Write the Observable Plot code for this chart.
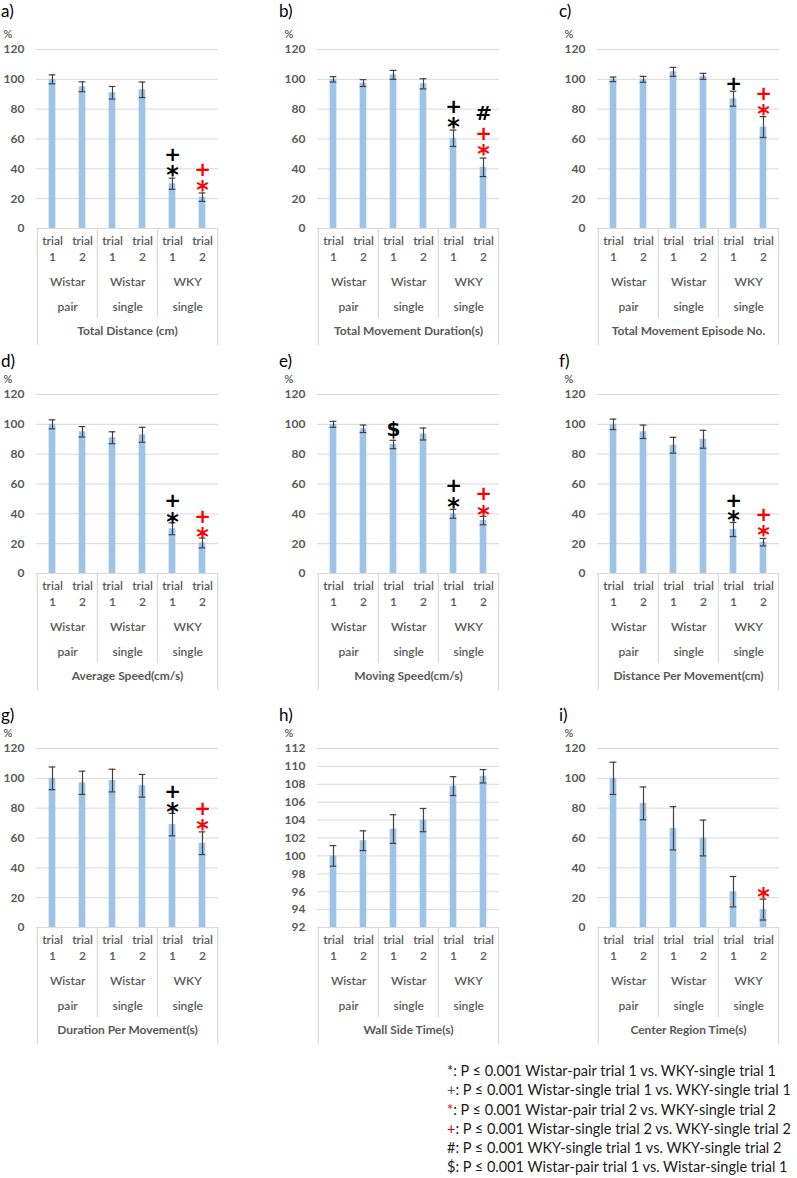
<!DOCTYPE html>
<html><head><meta charset="utf-8">
<script src="https://cdn.jsdelivr.net/npm/d3@7"></script>
<script src="https://cdn.jsdelivr.net/npm/@observablehq/plot@0.6"></script>
<style>
body{margin:0;background:#fff;font-family:Lato,"Open Sans",sans-serif}
#wrap{position:relative;width:797px;height:1178px;overflow:hidden;background:#fff}
.panel{position:absolute}
.panel svg{overflow:visible}
.letter{position:absolute;font-size:17px;color:#000;line-height:1;font-family:Lato,sans-serif}
#legend{position:absolute;left:447px;top:1061px;font-size:14.5px;color:#1a1a1a;line-height:19.3px;white-space:nowrap}
</style></head><body><div id="wrap"></div>
<script>
// ---------- data ----------
const trials = ["trial 1", "trial 2"];
const strains = ["Wistar", "Wistar", "WKY"];
const housing = ["pair", "single", "single"];
const letters = ["a)", "b)", "c)", "d)", "e)", "f)", "g)", "h)", "i)"];
const titles = ["Total Distance (cm)", "Total Movement Duration(s)", "Total Movement Episode No.",
  "Average Speed(cm/s)", "Moving Speed(cm/s)", "Distance Per Movement(cm)",
  "Duration Per Movement(s)", "Wall Side Time(s)", "Center Region Time(s)"];

const meanA = [100, 95, 91, 93, 30, 21];     const errA = [3, 3.3, 4.2, 5.2, 3.7, 2.8];
const meanB = [100, 97.5, 103, 97, 60.5, 41]; const errB = [1.8, 2.3, 3, 3.4, 5.5, 6.2];
const meanC = [100, 100, 105, 102, 87, 68];  const errC = [1.5, 2, 3, 2, 5, 7];
const meanD = [100, 95, 91, 93, 30, 20.5];   const errD = [3, 3.5, 4, 5, 4, 3.3];
const meanE = [100, 97, 86.5, 93.5, 40, 35.5]; const errE = [2, 2.5, 2.8, 4, 3, 2.8];
const meanF = [100, 95, 86, 90, 29.5, 21];   const errF = [3.5, 4.5, 5.3, 6, 4.7, 2.5];
const meanG = [100, 97, 98.5, 95, 69, 56.5]; const errG = [7.6, 7.8, 7.6, 7.6, 7.5, 7.6];
const meanH = [100, 101.7, 103, 104, 107.8, 108.9]; const errH = [1.15, 1.1, 1.6, 1.3, 1.05, 0.75];
const meanI = [100, 83.2, 66.5, 60, 24, 12]; const errI = [10.8, 11, 14.5, 12, 10.2, 7];

const ticksPct = [0, 20, 40, 60, 80, 100, 120];
const ticksWall = [92, 94, 96, 98, 100, 102, 104, 106, 108, 110, 112];

// significance marks: bar index, symbol, colour, height (in y units)
const annA = [{i: 4, s: "+", c: "black", y: 49.5}, {i: 4, s: "*", c: "black", y: 39}, {i: 5, s: "+", c: "red", y: 39.3}, {i: 5, s: "*", c: "red", y: 28.8}];
const annB = [{i: 4, s: "+", c: "black", y: 81.8}, {i: 4, s: "*", c: "black", y: 71}, {i: 5, s: "#", c: "black", y: 77}, {i: 5, s: "+", c: "red", y: 63.5}, {i: 5, s: "*", c: "red", y: 53}];
const annC = [{i: 4, s: "+", c: "black", y: 97.4}, {i: 5, s: "+", c: "red", y: 90.7}, {i: 5, s: "*", c: "red", y: 80.2}];
const annD = [{i: 4, s: "+", c: "black", y: 48.9}, {i: 4, s: "*", c: "black", y: 38}, {i: 5, s: "+", c: "red", y: 38}, {i: 5, s: "*", c: "red", y: 27.6}];
const annE = [{i: 2, s: "$", c: "black", y: 96.4}, {i: 4, s: "+", c: "black", y: 58.8}, {i: 4, s: "*", c: "black", y: 47.8}, {i: 5, s: "+", c: "red", y: 53.4}, {i: 5, s: "*", c: "red", y: 42.6}];
const annF = [{i: 4, s: "+", c: "black", y: 49}, {i: 4, s: "*", c: "black", y: 39}, {i: 5, s: "+", c: "red", y: 39.4}, {i: 5, s: "*", c: "red", y: 28.8}];
const annG = [{i: 4, s: "+", c: "black", y: 90.8}, {i: 4, s: "*", c: "black", y: 80.7}, {i: 5, s: "+", c: "red", y: 80}, {i: 5, s: "*", c: "red", y: 69.5}];
const annH = [];
const annI = [{i: 5, s: "*", c: "red", y: 23.5}];

const legendSymbols = ["*", "+", "*", "+", "#", "$"];
const legendColors = ["#1a1a1a", "#44546a", "#e00000", "#e00000", "#1a1a1a", "#1a1a1a"];
const legendTexts = [
  "P ≤ 0.001 Wistar-pair trial 1 vs. WKY-single trial 1",
  "P ≤ 0.001 Wistar-single trial 1 vs. WKY-single trial 1",
  "P ≤ 0.001 Wistar-pair trial 2 vs. WKY-single trial 2",
  "P ≤ 0.001 Wistar-single trial 2 vs. WKY-single trial 2",
  "P ≤ 0.001 WKY-single trial 1 vs. WKY-single trial 2",
  "P ≤ 0.001 Wistar-pair trial 1 vs. Wistar-single trial 1"];

// ---------- layout ----------
const keys = [];
strains.forEach((s, g) => trials.forEach(t => keys.push(`${s} ${housing[g]} ${t}`)));
const panels = [
  {mean: meanA, err: errA, ann: annA, ticks: ticksPct},
  {mean: meanB, err: errB, ann: annB, ticks: ticksPct},
  {mean: meanC, err: errC, ann: annC, ticks: ticksPct},
  {mean: meanD, err: errD, ann: annD, ticks: ticksPct},
  {mean: meanE, err: errE, ann: annE, ticks: ticksPct},
  {mean: meanF, err: errF, ann: annF, ticks: ticksPct},
  {mean: meanG, err: errG, ann: annG, ticks: ticksPct},
  {mean: meanH, err: errH, ann: annH, ticks: ticksWall},
  {mean: meanI, err: errI, ann: annI, ticks: ticksPct}];

const colLeft = [0, 281, 561];
const rowTop = [20, 365, 719];
const pctDy = [-19, -19, -19];
const letterTop = [2, 352, 706];
const ML = 36, PW = 182, MR = 18, MT = 29, PH = 179, MB = 118;
const W = ML + PW + MR, H = MT + PH + MB;
const bw = PW / keys.length;
const barW = 7, capW = 7;
const gray = "#595959", lineCol = "#d9d9d9", errCol = "#404040", barFill = "#9dc3e6";
const font = "Lato, 'Open Sans', sans-serif";

const wrap = document.getElementById("wrap");

panels.forEach((p, n) => {
  const r = Math.floor(n / 3), c = n % 3;
  const y0 = p.ticks[0], y1 = p.ticks[p.ticks.length - 1];
  const data = keys.map((k, i) => ({k, v: p.mean[i], e: p.err[i], t: trials[i % 2]}));
  const grp = strains.map((s, g) => ({k: keys[2 * g], top: s, bottom: housing[g]}));
  const ann = p.ann.map(a => ({...a, k: keys[a.i]}));
  const barInset = (bw - barW) / 2, capInset = (bw - capW) / 2;
  const chart = Plot.plot({
    width: W, height: H, marginLeft: ML, marginRight: MR, marginTop: MT, marginBottom: MB,
    x: {domain: keys, padding: 0, axis: null},
    y: {domain: [y0, y1], axis: null},
    style: {fontFamily: font, background: "transparent", overflow: "visible"},
    marks: [
      Plot.gridY(p.ticks, {stroke: lineCol, strokeOpacity: 1, strokeWidth: 1}),
      Plot.axisY(p.ticks, {tickSize: 0, tickPadding: 12, fontSize: 12, fontWeight: "bold", fill: gray, label: null}),
      Plot.text(["%"], {frameAnchor: "top-left", textAnchor: "start", dx: -33, dy: pctDy[r], fontSize: 11, fill: "#333"}),
      Plot.barY(data, {x: "k", y1: y0, y2: "v", fill: barFill, insetLeft: barInset, insetRight: barInset}),
      Plot.ruleX(data, {x: "k", y1: d => d.v - d.e, y2: d => d.v + d.e, stroke: errCol, strokeWidth: 1.2}),
      Plot.tickY(data, {x: "k", y: d => d.v - d.e, stroke: errCol, strokeWidth: 1.2, insetLeft: capInset, insetRight: capInset}),
      Plot.tickY(data, {x: "k", y: d => d.v + d.e, stroke: errCol, strokeWidth: 1.2, insetLeft: capInset, insetRight: capInset}),
      // category table lines
      Plot.ruleY([y0], {stroke: lineCol, strokeWidth: 1.2}),
      Plot.ruleX([keys[0]], {x: d => d, dx: -bw / 2, stroke: lineCol, strokeWidth: 1.2, insetTop: PH, insetBottom: -(MB - 1)}),
      Plot.ruleX([keys[keys.length - 1]], {x: d => d, dx: bw / 2, stroke: lineCol, strokeWidth: 1.2, insetTop: PH, insetBottom: -(MB - 1)}),
      Plot.ruleX(grp.slice(1), {x: "k", dx: -bw / 2, stroke: lineCol, strokeWidth: 1.2, insetTop: PH, insetBottom: -90}),
      // category labels
      Plot.text(data, {x: "k", text: d => d.t.split(" ")[0], frameAnchor: "bottom", dy: 16, fontSize: 12, fontWeight: 600, fill: gray}),
      Plot.text(data, {x: "k", text: d => d.t.split(" ")[1], frameAnchor: "bottom", dy: 32, fontSize: 12, fontWeight: 600, fill: gray}),
      Plot.text(grp, {x: "k", text: "top", frameAnchor: "bottom", dx: bw / 2, dy: 57, fontSize: 12, fontWeight: 600, fill: gray}),
      Plot.text(grp, {x: "k", text: "bottom", frameAnchor: "bottom", dx: bw / 2, dy: 82, fontSize: 12, fontWeight: 600, fill: gray}),
      Plot.text([titles[n]], {frameAnchor: "bottom", dy: 106, fontSize: 12, fontWeight: "bold", fill: gray}),
      // significance marks
      Plot.text(ann.filter(a => a.s === "*"), {x: "k", y: "y", text: "s", fill: "c", fontSize: 24, fontWeight: "bold", dy: 5, fontFamily: "DejaVu Sans"}),
      Plot.text(ann.filter(a => a.s !== "*"), {x: "k", y: "y", text: "s", fill: "c", fontSize: 20, fontWeight: "bold", fontFamily: "DejaVu Sans"})
    ]
  });
  const div = document.createElement("div");
  div.className = "panel";
  div.style.left = colLeft[c] + "px";
  div.style.top = rowTop[r] + "px";
  div.appendChild(chart);
  wrap.appendChild(div);
  const lt = document.createElement("div");
  lt.className = "letter";
  lt.style.left = (colLeft[c] + (c === 0 ? 1 : -2)) + "px";
  lt.style.top = letterTop[r] + "px";
  lt.textContent = letters[n];
  wrap.appendChild(lt);
});

const leg = document.createElement("div");
leg.id = "legend";
legendTexts.forEach((t, i) => {
  const row = document.createElement("div");
  const s = document.createElement("span");
  s.style.color = legendColors[i];
  s.textContent = legendSymbols[i];
  row.appendChild(s);
  row.appendChild(document.createTextNode(": " + t));
  leg.appendChild(row);
});
wrap.appendChild(leg);
</script></body></html>
